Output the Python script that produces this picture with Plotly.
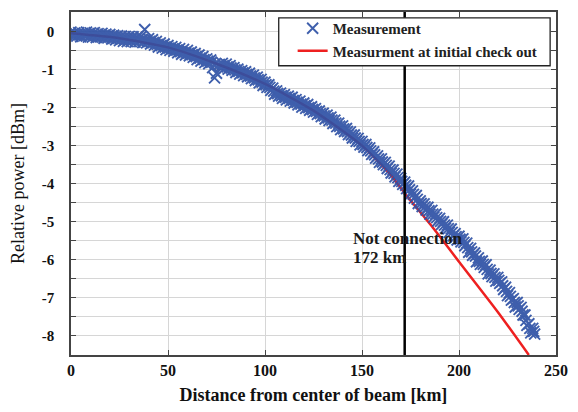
import plotly.graph_objects as go

meas_x = list(range(0, 240))
meas_y = [
    -0.02, -0.13, -0.04, -0.12, -0.03, -0.14, -0.05, -0.11, -0.02, -0.15,
    -0.04, -0.15, -0.03, -0.16, -0.06, -0.14, -0.05, -0.18, -0.07, -0.17,
    -0.08, -0.20, -0.10, -0.22, -0.11, -0.24, -0.12, -0.26, -0.13, -0.27,
    -0.13, -0.27, -0.14, -0.28, -0.15, -0.27, -0.14, -0.29, 0.05, -0.30,
    -0.19, -0.33, -0.22, -0.36, -0.26, -0.41, -0.30, -0.44, -0.33, -0.48,
    -0.37, -0.50, -0.40, -0.52, -0.42, -0.56, -0.45, -0.60, -0.47, -0.62,
    -0.50, -0.64, -0.54, -0.68, -0.58, -0.74, -0.62, -0.78, -0.66, -0.82,
    -0.72, -0.85, -0.75, -0.95, -1.22, -1.10, -0.88, -0.93, -0.84, -0.97,
    -0.86, -0.99, -0.90, -1.02, -0.95, -1.08, -0.99, -1.12, -1.03, -1.16,
    -1.06, -1.19, -1.10, -1.24, -1.15, -1.29, -1.20, -1.35, -1.26, -1.42,
    -1.33, -1.47, -1.40, -1.55, -1.49, -1.65, -1.56, -1.70, -1.62, -1.76,
    -1.66, -1.80, -1.70, -1.83, -1.73, -1.88, -1.79, -1.93, -1.83, -1.99,
    -1.88, -2.02, -1.92, -2.07, -1.98, -2.12, -2.03, -2.18, -2.09, -2.24,
    -2.15, -2.30, -2.20, -2.34, -2.25, -2.42, -2.33, -2.50, -2.41, -2.58,
    -2.48, -2.63, -2.55, -2.71, -2.64, -2.80, -2.72, -2.89, -2.81, -2.98,
    -2.89, -3.04, -2.97, -3.13, -3.06, -3.23, -3.16, -3.33, -3.27, -3.44,
    -3.35, -3.50, -3.44, -3.60, -3.54, -3.72, -3.64, -3.82, -3.75, -3.94,
    -3.86, -4.02, -3.96, -4.13, -4.06, -4.27, -4.19, -4.38, -4.31, -4.52,
    -4.45, -4.60, -4.53, -4.69, -4.62, -4.80, -4.70, -4.88, -4.80, -4.98,
    -4.91, -5.07, -5.00, -5.17, -5.09, -5.28, -5.19, -5.37, -5.31, -5.48,
    -5.38, -5.53, -5.45, -5.63, -5.56, -5.80, -5.70, -5.88, -5.82, -6.05,
    -5.95, -6.12, -6.03, -6.20, -6.13, -6.37, -6.27, -6.44, -6.37, -6.56,
    -6.46, -6.62, -6.58, -6.78, -6.72, -6.94, -6.86, -7.06, -7.02, -7.24,
    -7.12, -7.30, -7.25, -7.45, -7.45, -7.72, -7.68, -7.92, -7.80, -7.95,
]

# Measurement readings near the middle of the band, every 2 km from 0.5 km
meas_mid_x = [0.5 + 2 * i for i in range(120)]
meas_mid_y = [
    -0.08, -0.08, -0.09, -0.08, -0.09, -0.10, -0.10, -0.11, -0.12, -0.13,
    -0.15, -0.16, -0.18, -0.19, -0.20, -0.20, -0.21, -0.21, -0.22, -0.23,
    -0.26, -0.29, -0.34, -0.37, -0.41, -0.44, -0.46, -0.49, -0.53, -0.55,
    -0.57, -0.61, -0.66, -0.70, -0.74, -0.78, -0.81, -0.84, -0.87, -0.90,
    -0.93, -0.96, -1.01, -1.05, -1.09, -1.13, -1.17, -1.22, -1.27, -1.33,
    -1.40, -1.47, -1.57, -1.63, -1.69, -1.73, -1.76, -1.81, -1.86, -1.91,
    -1.95, -2.00, -2.05, -2.10, -2.16, -2.22, -2.27, -2.33, -2.41, -2.49,
    -2.56, -2.63, -2.72, -2.80, -2.89, -2.97, -3.05, -3.14, -3.24, -3.35,
    -3.43, -3.52, -3.63, -3.73, -3.84, -3.94, -4.04, -4.16, -4.28, -4.41,
    -4.52, -4.61, -4.71, -4.80, -4.89, -4.99, -5.09, -5.18, -5.28, -5.39,
    -5.46, -5.54, -5.68, -5.79, -5.90, -6.04, -6.12, -6.25, -6.36, -6.46,
    -6.54, -6.68, -6.83, -6.96, -7.12, -7.21, -7.35, -7.59, -7.80, -7.88,
]

# Initial check-out measurement (km, dB)
init_x = [0, 25, 50, 75, 100, 125, 150, 165, 172, 186, 200, 220, 236]
init_y = [-0.05, -0.18, -0.42, -0.85, -1.38, -2.08, -3.0, -3.78, -4.25, -5.12, -6.05, -7.37, -8.5]

cut_km = 172
x_ticks = [0, 50, 100, 150, 200, 250]
y_ticks = [0, -1, -2, -3, -4, -5, -6, -7, -8]
note_lines = ["Not connection", "172 km"]

SERIF = "Liberation Serif, Times New Roman, serif"
BLUE = "#2f52a6"

fig = go.Figure()
fig.add_trace(go.Scatter(
    x=init_x, y=init_y, mode="lines",
    line=dict(color="#ee2020", width=2.5, shape="spline", smoothing=0.6),
    name="<b>Measurment at initial check out</b>", legendrank=2,
))
fig.add_trace(go.Scatter(
    x=meas_x + meas_mid_x, y=meas_y + meas_mid_y, mode="markers",
    marker=dict(symbol="x-thin", size=11, color=BLUE, line=dict(width=1.9, color=BLUE)),
    opacity=0.92,
    name="<b>Measurement</b>", legendrank=1,
))

fig.add_shape(type="line", x0=cut_km, x1=cut_km, y0=0, y1=1, xref="x", yref="paper",
              line=dict(color="black", width=2.5))
# legend frame
fig.add_shape(type="rect", xref="paper", yref="paper",
              x0=0.4283, x1=0.9879, y0=0.8433, y1=0.9829,
              line=dict(color="#222", width=1.3), fillcolor="white", layer="above")

for i, t in enumerate(note_lines):
    fig.add_annotation(x=144.5, y=-5.45 - 0.49 * i, xref="x", yref="y",
                       xanchor="left", yanchor="middle",
                       text="<b>" + t + "</b>", showarrow=False, align="left",
                       font=dict(family=SERIF, size=17, color="#1a1a1a"))

fig.update_layout(
    width=578, height=412,
    margin=dict(l=71, r=12, t=10, b=51),
    paper_bgcolor="white", plot_bgcolor="white",
    font=dict(family=SERIF, color="#111"),
    showlegend=True,
    legend=dict(x=0.457, y=1.0, xanchor="left", yanchor="top",
                bgcolor="rgba(0,0,0,0)", borderwidth=0,
                font=dict(family=SERIF, size=15, color="#222"),
                traceorder="normal", tracegroupgap=0),
)
fig.update_xaxes(
    range=[0, 250], tickvals=x_ticks, ticktext=[str(v) for v in x_ticks],
    showgrid=True, gridcolor="#d6d6d6", gridwidth=1,
    ticks="inside", ticklen=5, tickcolor="#444", mirror="ticks",
    showline=True, linecolor="#444", linewidth=1.5, zeroline=False,
    tickfont=dict(family=SERIF, size=16, weight="bold", color="#111"),
    title=dict(text="<b>Distance from center of beam [km]</b>", standoff=10,
               font=dict(family=SERIF, size=18, color="#111")),
)
fig.update_yaxes(
    range=[-8.5, 0.51], tickvals=y_ticks, ticktext=[str(v) for v in y_ticks],
    showgrid=True, gridcolor="#d6d6d6", gridwidth=1,
    minor=dict(dtick=0.5, showgrid=True, gridcolor="#d6d6d6", ticks="inside", ticklen=5, tickcolor="#444"),
    ticks="inside", ticklen=5, tickcolor="#444", mirror="ticks",
    showline=True, linecolor="#444", linewidth=1.5, zeroline=False,
    ticklabelstandoff=12,
    tickfont=dict(family=SERIF, size=15, weight="bold", color="#111"),
    title=dict(text="Relative power [dBm]", standoff=12,
               font=dict(family=SERIF, size=18, color="#111")),
)

fig.write_html("out.html")
